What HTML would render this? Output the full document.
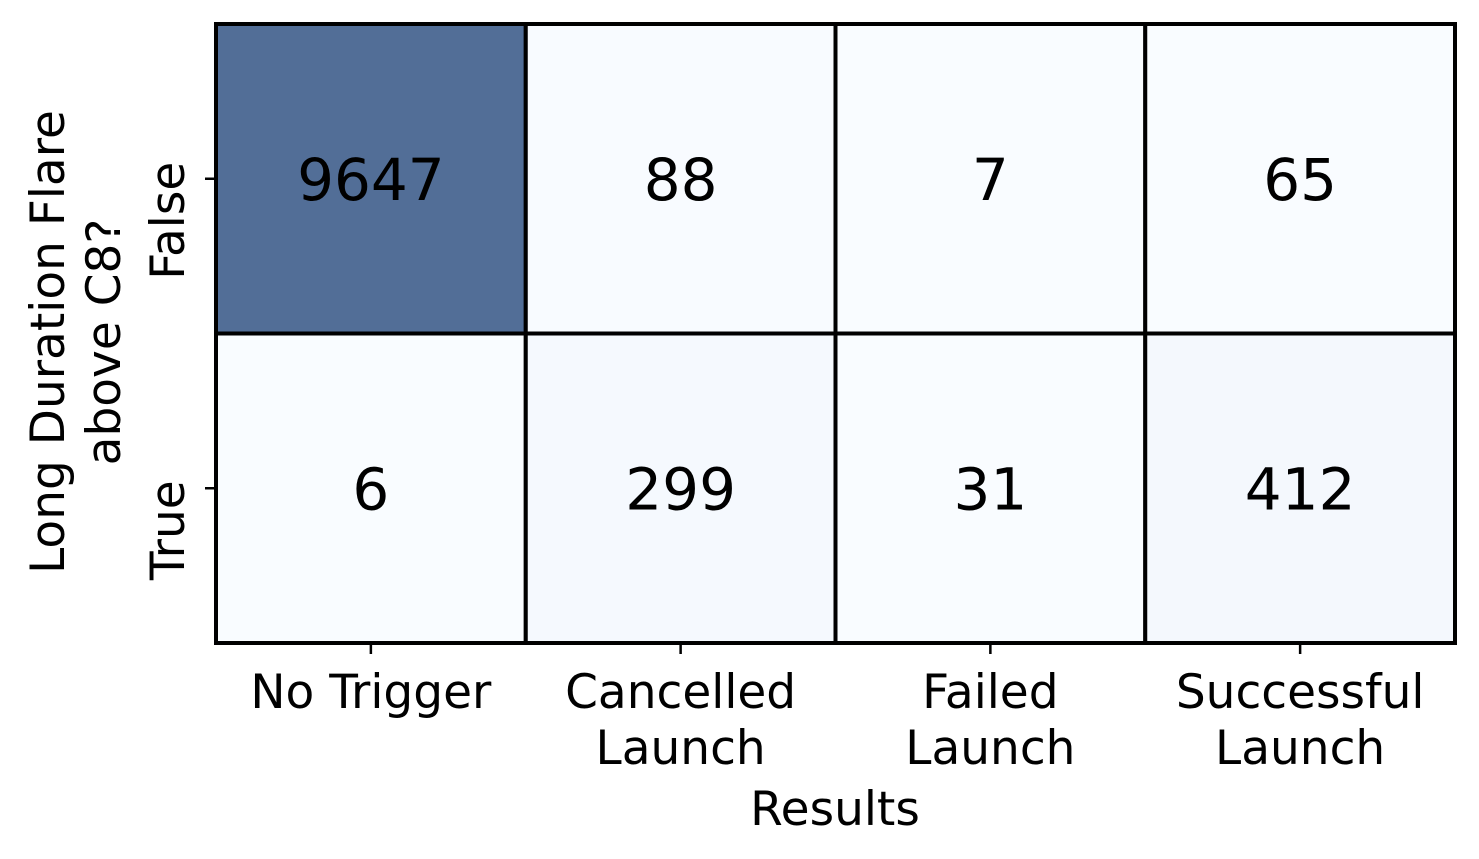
<!DOCTYPE html>
<html><head><meta charset="utf-8"><style>
html,body{margin:0;padding:0;background:#fff;}
svg{display:block;font-family:"DejaVu Sans","Liberation Sans",sans-serif;}
</style></head><body>
<svg id="chart" width="1479" height="859" viewBox="0 0 1479 859">
<g id="cells"></g>
<g id="axes"></g>
</svg>
<script>
const xCategories = ["No Trigger", "Cancelled\nLaunch", "Failed\nLaunch", "Successful\nLaunch"];
const yCategories = ["False", "True"];
const rowFalse = [9647, 88, 7, 65];
const rowTrue = [6, 299, 31, 412];
const values = [rowFalse, rowTrue];

const NS = "http://www.w3.org/2000/svg";
const L = 216, R = 1455, T = 24, B = 643;
const cw = (R - L) / xCategories.length, ch = (B - T) / yCategories.length;
const xPos = i => L + i * cw;
const yPos = j => T + j * ch;
const stops = ["#f7fbff","#deebf7","#c6dbef","#9ecae1","#6baed6","#4292c6","#2171b5","#08519c","#08306b"];
function hex(h){return [1,3,5].map(k=>parseInt(h.substr(k,2),16));}
function blues(t){
  t=Math.max(0,Math.min(1,t));
  const p=t*(stops.length-1), i=Math.min(stops.length-2,Math.floor(p)), f=p-i;
  const a=hex(stops[i]), b=hex(stops[i+1]);
  const c=a.map((v,k)=>v+(b[k]-v)*f).map(v=>Math.round(0.3*255+0.7*v));
  return `rgb(${c[0]},${c[1]},${c[2]})`;
}
const all = values.flat();
const vmax = Math.max(...all), vmin = Math.min(...all);
const cells = document.getElementById("cells");
const axes = document.getElementById("axes");
function mk(tag, attrs, parent){const e=document.createElementNS(NS,tag);for(const k in attrs)e.setAttribute(k,attrs[k]);parent.appendChild(e);return e;}

values.forEach((row,j)=>row.forEach((v,i)=>{
  const r = mk("rect",{x:xPos(i),y:yPos(j),width:cw,height:ch,fill:blues((v-vmin)/(vmax-vmin)),stroke:"#000","stroke-width":4},cells);
  
  
  const t = mk("text",{x:xPos(i)+cw/2,y:yPos(j)+ch/2+21,"text-anchor":"middle","font-size":58,fill:"#000"},cells);
  t.textContent = v;
  
  
}));
mk("rect",{x:L,y:T,width:R-L,height:B-T,fill:"none",stroke:"#000","stroke-width":4},axes);

xCategories.forEach((c,i)=>{
  const cx = xPos(i)+cw/2;
  mk("line",{x1:cx,x2:cx,y1:B,y2:B+11,stroke:"#000","stroke-width":2.5},axes);
  const t = mk("text",{x:cx,y:708,"text-anchor":"middle","font-size":47,fill:"#000"},axes);
  
  
  c.split("\n").forEach((ln,k)=>{const s=mk("tspan",{x:cx,dy:k?56:0},t);s.textContent=ln;});
});
yCategories.forEach((c,j)=>{
  const cy = yPos(j)+ch/2;
  mk("line",{x1:L-11,x2:L,y1:cy,y2:cy,stroke:"#000","stroke-width":2.5},axes);
  const t = mk("text",{x:0,y:0,"text-anchor":"middle","font-size":47,fill:"#000",transform:`translate(184,${cy+42}) rotate(-90)`},axes);
  t.textContent = c;
  
  
});
const xt = mk("text",{x:835,y:825,"text-anchor":"middle","font-size":47,fill:"#000"},axes);
xt.textContent = "Results";


const yt = mk("text",{x:0,y:0,"text-anchor":"middle","font-size":47,fill:"#000",transform:"translate(64,342) rotate(-90)"},axes);


["Long Duration Flare","above C8?"].forEach((ln,k)=>{const s=mk("tspan",{x:0,dy:k?56:0},yt);s.textContent=ln;});
</script>
</body></html>
